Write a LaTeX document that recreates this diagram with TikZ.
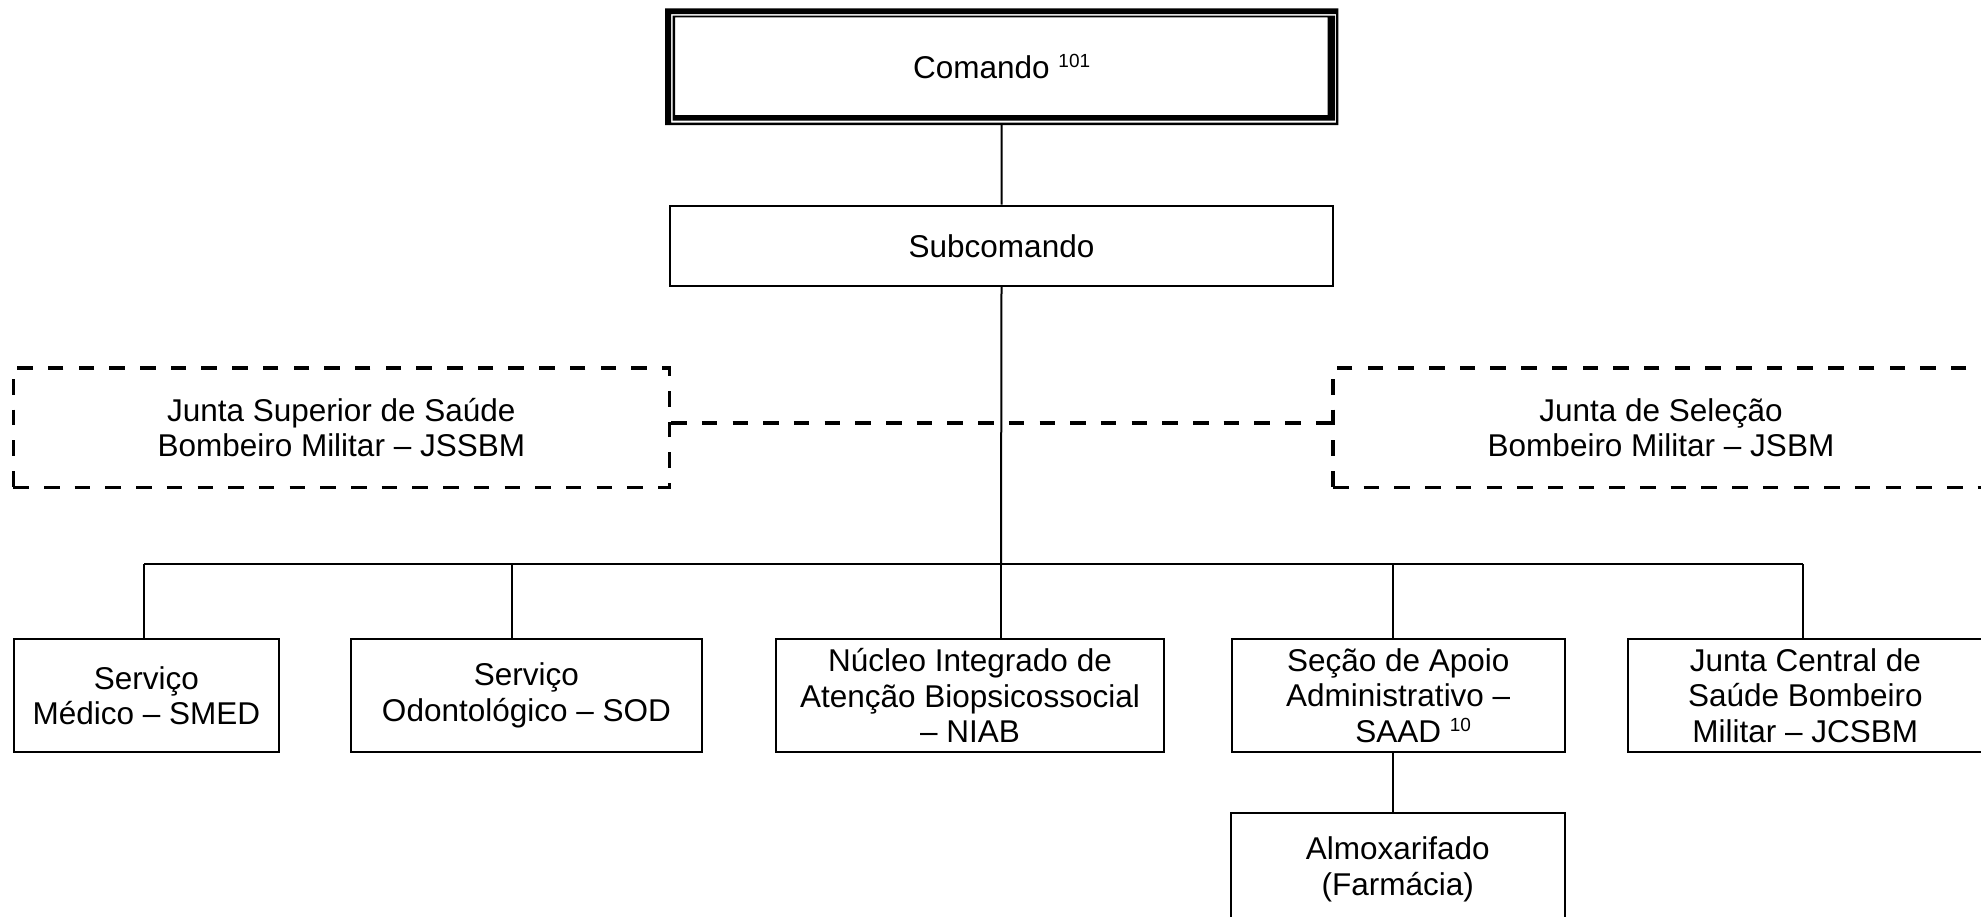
\documentclass[tikz,border=0pt]{standalone}
\usepackage{fontspec}
\setmainfont{Liberation Sans}
\usetikzlibrary{calc}
% raised small number after a label
\newcommand\supnum[1]{\raisebox{11pt}{\fontsize{19}{19}\selectfont #1}}
\begin{document}
\begin{tikzpicture}[x=1pt,y=-1pt,
  every node/.style={font=\fontsize{31.5}{35.5}\selectfont, align=center, inner sep=0pt},
  box/.style={draw, line width=2pt},
  dbox/.style={draw, line width=3.6pt, dash pattern=on 15.5pt off 15.2pt},
  link/.style={line width=2pt},
  dlink/.style={line width=3.6pt, dash pattern=on 15.5pt off 15.2pt}]
\useasboundingbox (0,0) rectangle (1981,916);
\clip (0,0) rectangle (1981,916);

% command box with a thick/thin double frame
\node[minimum width=673.3pt, minimum height=116.7pt] (cmd) at (1001.65,66.65) {Comando \supnum{101}};
\fill[even odd rule] (665,8.3) rectangle (1338.3,125) (671,14) rectangle (1336,122.7);
\fill[even odd rule] (672.7,15.7) rectangle (1335,120.7) (675,17.3) rectangle (1327.7,115);

\node[box, minimum width=663pt, minimum height=80.3pt] (sub) at (1001.5,245.85) {Subcomando};

% advisory boards (dashed)
\node[dbox, minimum width=656pt, minimum height=119.6pt] (jss) at (341.3,427.5)
  {Junta Superior de Saúde\\Bombeiro Militar – JSSBM};
\node[dbox, minimum width=656pt, minimum height=119.6pt] (jsb) at (1661,427.5)
  {Junta de Seleção\\Bombeiro Militar – JSBM};

% subordinate sections
\node[box, minimum width=264.7pt, minimum height=112.4pt] (smed) at (146.35,695.5)
  {Serviço\\Médico – SMED};
\node[box, minimum width=350.1pt, minimum height=112.4pt] (sod) at (526.45,695.5)
  {Serviço\\Odontológico – SOD};
\node[box, minimum width=388pt, minimum height=112.4pt] (niab) at (970,695.5)
  {Núcleo Integrado de\\Atenção Biopsicossocial\\– NIAB};
\node[box, minimum width=333.5pt, minimum height=112.4pt] (saad) at (1398.25,695.5)
  {Seção de Apoio\\Administrativo –\\SAAD\rlap{ \supnum{10}}};
\node[box, minimum width=355.3pt, minimum height=112.4pt] (jcs) at (1805.35,695.5)
  {Junta Central de\\Saúde Bombeiro\\Militar – JCSBM};
\node[box, minimum width=334.3pt, minimum height=112.4pt] (alm) at (1397.85,869.2)
  {Almoxarifado\\(Farmácia)};

% bus points
\coordinate (d1) at (144,564);
\coordinate (d2) at (512,564);
\coordinate (d3) at (1001,564);
\coordinate (d4) at (1393,564);
\coordinate (d5) at (1803,564);

% connectors
\draw[link] (cmd.south) -- (sub.north);
\draw[link] (sub.south) -- (d3);
\draw[dlink] ($(jss.east)+(0,-4.8)$) -- ($(jsb.west)+(0,-4.8)$);
\draw[link] (d1) -- (d5);
\draw[link] (d1) -- (d1 |- smed.north);
\draw[link] (d2) -- (d2 |- sod.north);
\draw[link] (d3) -- (d3 |- niab.north);
\draw[link] (d4) -- (d4 |- saad.north);
\draw[link] (d5) -- (d5 |- jcs.north);
\draw[link] (d4 |- saad.south) -- (d4 |- alm.north);
\end{tikzpicture}
\end{document}
